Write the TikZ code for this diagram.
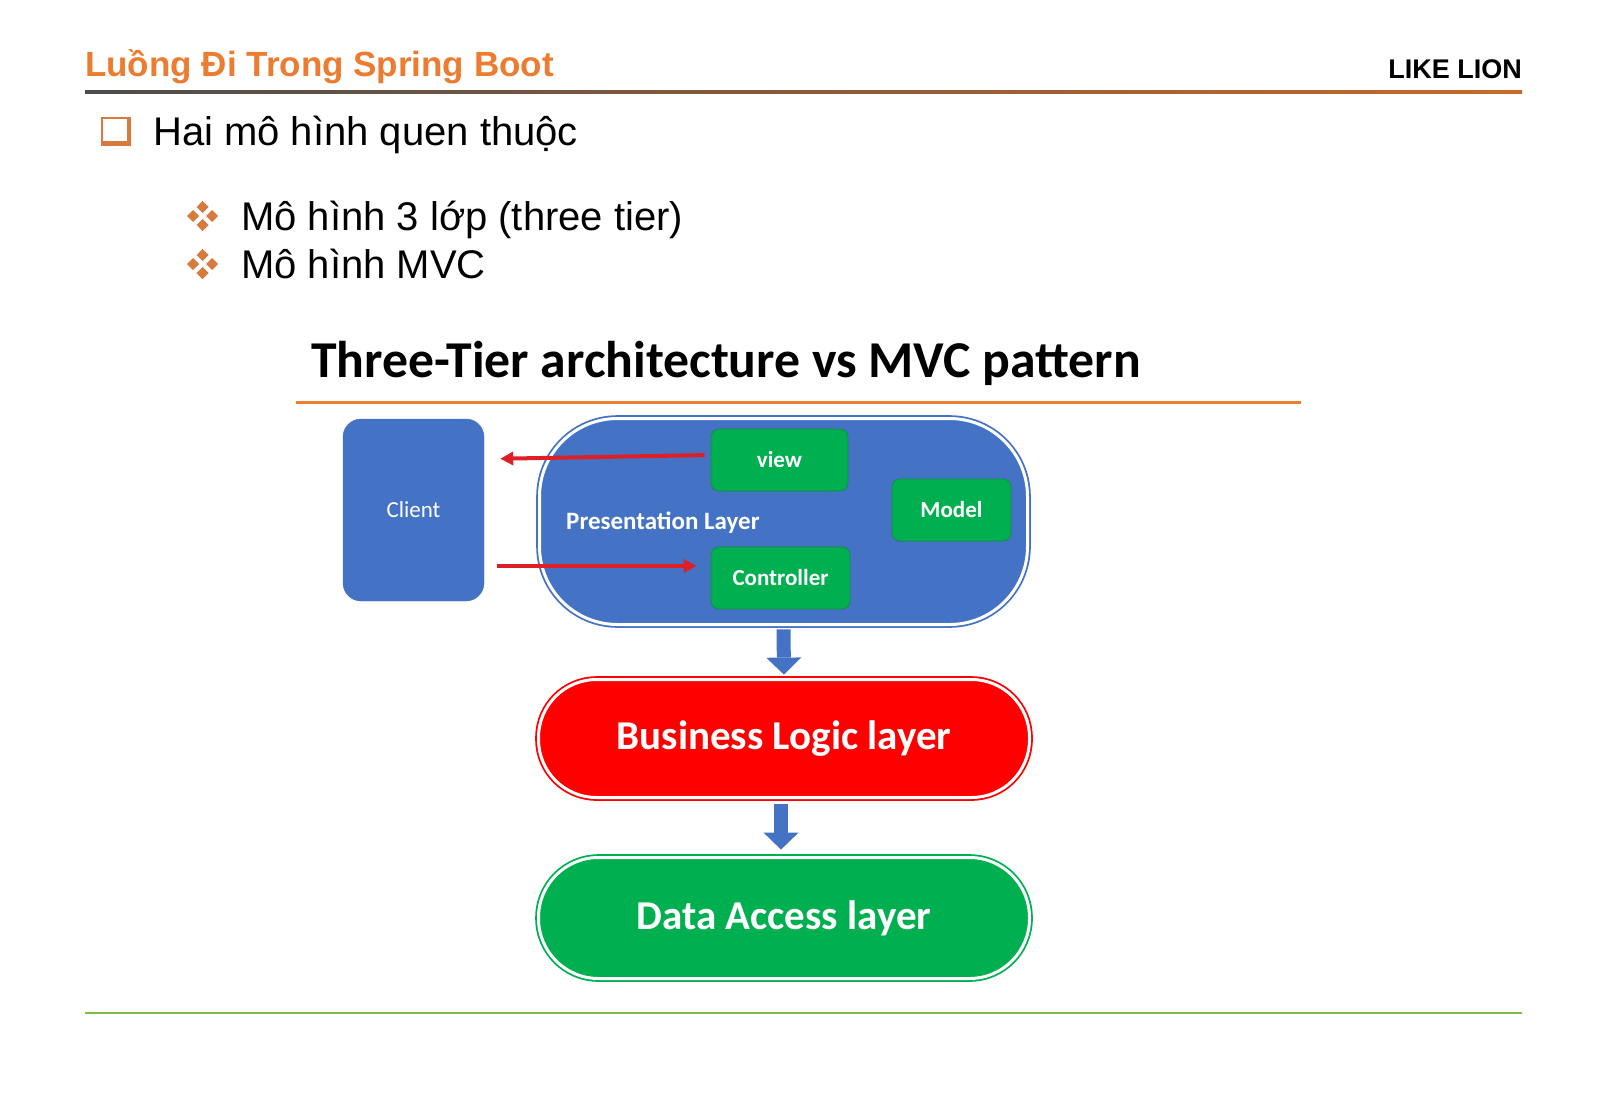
\documentclass[tikz,border=0pt]{standalone}
\usepackage{fontspec}
\setmainfont{Liberation Sans}
\newfontfamily\calfont{Carlito}
\usepackage{tikz}
\usetikzlibrary{positioning,arrows.meta}
\definecolor{cTitle}{RGB}{236,124,48}
\definecolor{cBullet}{RGB}{216,122,62}
\definecolor{cBlue}{RGB}{68,114,196}
\definecolor{cGreen}{RGB}{0,176,80}
\definecolor{cGreenDk}{RGB}{20,140,70}
\definecolor{cRed}{RGB}{255,0,0}
\definecolor{cArrow}{RGB}{222,32,38}
\definecolor{cRule}{RGB}{237,125,49}
\definecolor{cFoot}{RGB}{125,190,70}

\begin{document}
\begin{tikzpicture}[x=1pt,y=-1pt,
   layer/.style={draw=#1,fill=#1,double=white,double distance=3pt,line width=1.8pt,inner sep=0pt,
     text=white,font=\calfont\bfseries\fontsize{41}{48}\selectfont},
   mvc/.style={draw=cGreenDk,fill=cGreen,line width=0.8pt,rounded corners=8pt,minimum width=#1,
     minimum height=62pt,inner sep=0pt,text=white,font=\calfont\bfseries\fontsize{23}{28}\selectfont},
   flow/.style={draw=cArrow,line width=4pt,-{Triangle[length=13pt,width=13pt]}},
   down/.style={draw=cBlue,line width=14pt,-{Triangle[length=17pt,width=35pt,line width=0pt]}},
   txt/.style={inner sep=0pt,anchor=base west}]
  \useasboundingbox (0,0) rectangle (1600,1108);
  \fill[white] (0,0) rectangle (1600,1108);
  % slide header
  \node[txt,text=cTitle,font=\bfseries\fontsize{35}{42}\selectfont] (title) at (85,76) {Luồng Đi Trong Spring Boot};
  \node[inner sep=0pt,anchor=base east,font=\bfseries\fontsize{27}{30}\selectfont] (logo) at (1522,78) {LIKE LION};
  \shade[left color=black!70,right color=cTitle!85!black] (85,90.5) rectangle (1522,93.5);
  % bullets
  \fill[cBullet] (101,117) rectangle (131,146);
  \fill[white] (103,119) rectangle (127,141);
  \node[txt,font=\fontsize{40}{48}\selectfont] (item) at (153,145) {Hai mô hình quen thuộc};
  \foreach \y in {216,264}
    \foreach \dx/\dy in {0/-9,-9.5/0,9.5/0,0/9}
      \fill[cBullet] (202.5+\dx,\y+\dy) +(-6,0) -- +(0,-6) -- +(6,0) -- +(0,6) -- cycle;
  \node[txt,font=\fontsize{40}{48}\selectfont] (sub1) at (241,230) {Mô hình 3 lớp (three tier)};
  \node[txt,font=\fontsize{40}{48}\selectfont] (sub2) at (241,278) {Mô hình MVC};
  % diagram heading
  \node[txt,font=\calfont\bfseries\fontsize{51.7}{60}\selectfont] (head) at (311,377) {Three-Tier architecture vs MVC pattern};
  \draw[cRule,line width=3pt] (296,402) -- (1301,402);
  % client and presentation layer
  \node[draw=cBlue,fill=cBlue,rounded corners=18pt,minimum width=141pt,minimum height=182pt,inner sep=0pt,
    text=white,font=\calfont\fontsize{23}{28}\selectfont] (client) at (413.5,510) {Client};
  \node[layer=cBlue,rounded corners=78pt,minimum width=488pt,minimum height=206pt] (pl) at (783.5,521.5) {};
  \node[txt,text=white,font=\calfont\bfseries\fontsize{25}{30}\selectfont] (pllabel) at (566,529) {Presentation Layer};
  \node[mvc=137pt] (view) at (779.5,460) {view};
  \node[mvc=119pt] (model) at (951.5,510) {Model};
  \node[mvc=139pt] (ctrl) at (780.5,578) {Controller};
  % lower layers
  \node[layer=cRed,rounded corners=58pt,minimum width=491pt,minimum height=118pt] (bl) at (784,738.5) {Business Logic layer};
  \node[layer=cGreen,rounded corners=60pt,minimum width=491pt,minimum height=121pt] (dal) at (784,918) {Data Access layer};
  % request / response
  \draw[flow,shorten <=6pt,shorten >=16pt] ([yshift=5pt]view.west) -- ([yshift=51pt]client.east);
  \draw[flow,shorten <=13pt,shorten >=14pt] ([yshift=-56pt]client.east) -- ([yshift=12pt]ctrl.west);
  \draw[down,shorten <=4pt,shorten >=4pt] (pl.south) -- (bl.north);
  \draw[down,shorten <=6pt,shorten >=7pt] ([xshift=-3pt]bl.south) -- ([xshift=-3pt]dal.north);
  % footer
  \draw[cFoot,line width=2pt] (85,1013) -- (1522,1013);
\end{tikzpicture}
\end{document}
